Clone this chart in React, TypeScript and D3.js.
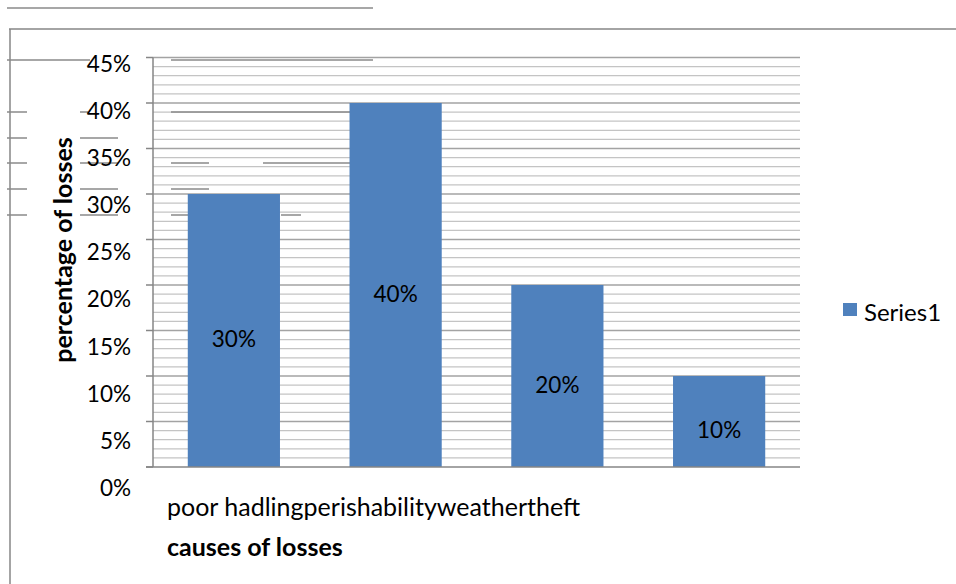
import React from 'react';
import * as d3 from 'd3';

const categories = ['poor hadling', 'perishability', 'weather', 'theft'];
const series1 = [30, 40, 20, 10];
const yTicks = [0, 5, 10, 15, 20, 25, 30, 35, 40, 45];
const seriesName = 'Series1';

// stray lines left over from the original export, [y, x1, x2]
const ghostLines: [number, number, number][] = [
  [8, 7, 373],
  [60, 7, 90], [60, 171, 373],
  [112, 7, 27], [112, 80, 88], [112, 171, 373],
  [138, 7, 27], [138, 80, 118],
  [163, 7, 27], [163, 80, 118], [163, 171, 209], [163, 263, 373],
  [189, 7, 27], [189, 80, 118], [189, 171, 209],
  [215, 7, 27], [215, 80, 118], [215, 171, 190], [215, 281, 301],
];

const W = 956;
const H = 584;
const font = 'Lato, "Open Sans", sans-serif';
const blue = '#4F81BD';

const App = () => {
  const x = d3.scaleBand<string>().domain(categories).range([153, 800]).paddingInner(0.43).paddingOuter(0.215);
  const y = d3.scaleLinear().domain([0, 45]).range([467, 57.5]);
  // tick labels sit a little lower than the ticks in the original
  const yLabel = d3.scaleLinear().domain([0, 45]).range([488, 64]);
  const minor = d3.range(1, 46);

  return (
    <svg width={W} height={H} style={{ position: 'absolute', left: 0, top: 0 }} fontFamily={font}>
      <rect width={W} height={H} fill="#fff" />
      {/* outer frame */}
      <line x1={9} x2={W} y1={29} y2={29} stroke="#868686" strokeWidth={1.5} />
      <line x1={10} x2={10} y1={29} y2={H} stroke="#868686" strokeWidth={1.5} />

      {/* gridlines */}
      {minor.map((v) => (
        <line key={v} x1={153} x2={800} y1={y(v)} y2={y(v)}
          stroke={v % 5 === 0 ? '#a3a3a3' : '#c4c4c4'} strokeWidth={v % 5 === 0 ? 1.6 : 1.3} />
      ))}

      {ghostLines.map(([gy, x1, x2], i) => (
        <line key={i} x1={x1} x2={x2} y1={gy} y2={gy} stroke="#8a8a8a" strokeWidth={1.5} />
      ))}

      {/* bars */}
      {series1.map((v, i) => (
        <rect key={i} x={x(categories[i])} y={y(v)} width={x.bandwidth()} height={y(0) - y(v)} fill={blue} />
      ))}
      {series1.map((v, i) => (
        <text key={i} x={(x(categories[i]) as number) + x.bandwidth() / 2} y={(y(v) + y(0)) / 2 + 9}
          dy="0.35em" textAnchor="middle" fontSize={22.5} fill="#000">{v}%</text>
      ))}

      {/* y axis */}
      <line x1={153} x2={153} y1={y(45)} y2={y(0)} stroke="#868686" strokeWidth={1.5} />
      {yTicks.map((t) => (
        <line key={t} x1={146} x2={153} y1={y(t)} y2={y(t)} stroke="#868686" strokeWidth={1.5} />
      ))}
      <line x1={146} x2={800} y1={y(0)} y2={y(0)} stroke="#868686" strokeWidth={1.5} />
      {yTicks.map((t) => (
        <text key={t} x={131} y={yLabel(t)} dy="0.35em" textAnchor="end" fontSize={22.5} fill="#000">{t}%</text>
      ))}
      <text transform="translate(72,250) rotate(-90)" textAnchor="middle" fontSize={25} fontWeight="bold" fill="#000">
        percentage of losses
      </text>

      {/* x labels, run together as in the original */}
      <text x={167} y={516} fontSize={25} fill="#000">
        {categories.map((c) => <tspan key={c}>{c}</tspan>)}
      </text>
      <text x={167} y={556} fontSize={25} fontWeight="bold" fill="#000">causes of losses</text>

      {/* legend */}
      <rect x={843} y={303} width={14} height={13} fill={blue} />
      <text x={864} y={313} dy="0.35em" fontSize={24} fill="#000">{seriesName}</text>
    </svg>
  );
};

export default App;
